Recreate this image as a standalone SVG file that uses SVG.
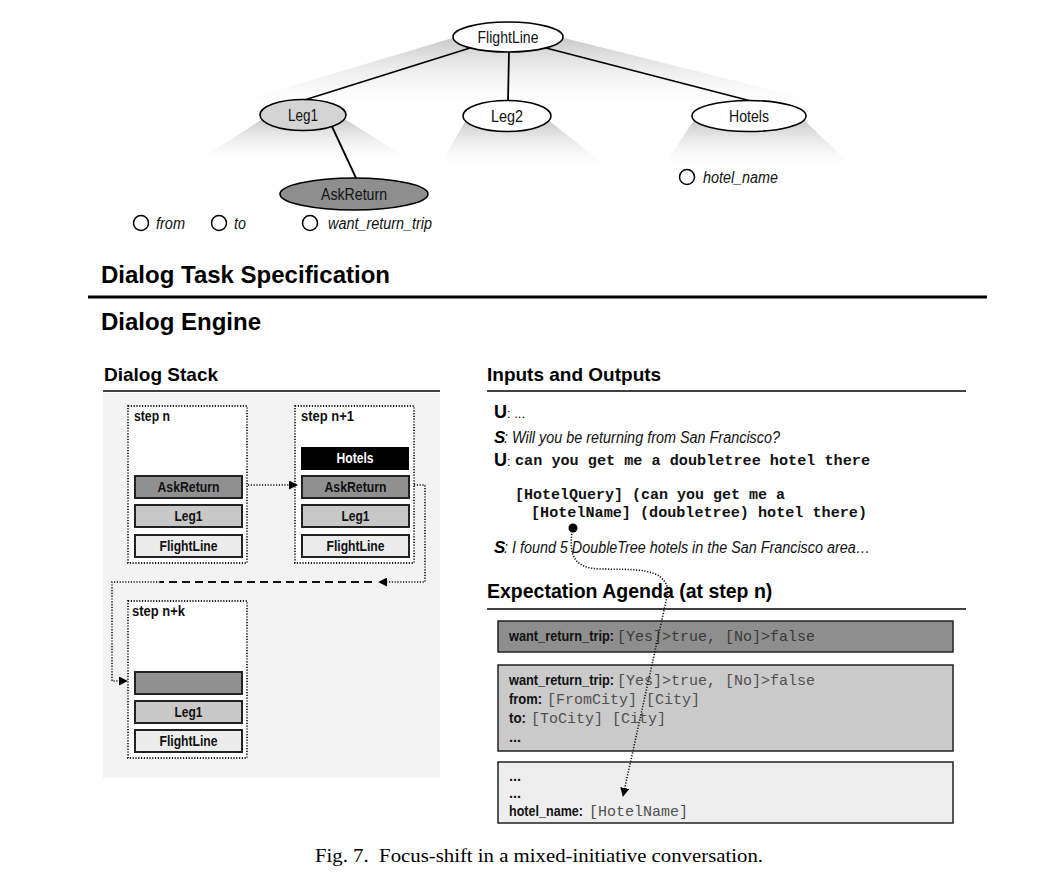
<svg xmlns="http://www.w3.org/2000/svg" width="1056" height="879" viewBox="0 0 1056 879">
<style>
.sans{font-family:"Liberation Sans",Arial,sans-serif;}
.hd{font-family:"Liberation Sans",Arial,sans-serif;font-weight:bold;fill:#000;}
.lbl{font-family:"Liberation Sans",Arial,sans-serif;font-size:16px;fill:#111;}
.it{font-family:"Liberation Sans",Arial,sans-serif;font-style:italic;font-size:16px;fill:#111;}
.sb{font-family:"Liberation Sans",Arial,sans-serif;font-weight:bold;font-size:14px;fill:#111;}
.ab{font-family:"Liberation Sans",Arial,sans-serif;font-weight:bold;font-size:14.5px;fill:#111;}
.mono{font-family:"Liberation Mono","Courier New",monospace;font-size:15px;fill:#505050;}
.monob{font-family:"Liberation Mono","Courier New",monospace;font-size:15px;font-weight:bold;fill:#111;}
.ell{stroke:#000;stroke-width:1.6;}
.edge{stroke:#000;stroke-width:1.8;fill:none;}
.slot{fill:#fff;stroke:#000;stroke-width:1.5;}
.frame{fill:#fff;stroke:#222;stroke-width:1.8;stroke-dasharray:1.2 1.6;}
.item{stroke:#222;stroke-width:2;}
.dot{stroke:#111;stroke-width:1.6;stroke-dasharray:1.2 1.6;fill:none;}
.agenda{stroke:#222;stroke-width:1.5;}
</style>
<defs>
<linearGradient id="fan" x1="0" y1="0" x2="0" y2="1">
<stop offset="0" stop-color="#c8c8c8"/>
<stop offset="1" stop-color="#ffffff" stop-opacity="0"/>
</linearGradient>
<marker id="arr" viewBox="0 0 10 10" refX="9" refY="5" markerWidth="9" markerHeight="9" markerUnits="userSpaceOnUse" orient="auto">
<path d="M0,0 L10,5 L0,10 Z" fill="#000"/>
</marker>
</defs>
<rect width="1056" height="879" fill="#fff"/>

<!-- shading fans -->
<g id="fans">
<path d="M456,37 L198,114 L868,114 L560,37 Z" fill="url(#fan)"/>
<path d="M264,118 L190,166 L420,166 L343,118 Z" fill="url(#fan)"/>
<path d="M466,120 L436,172 L614,172 L548,120 Z" fill="url(#fan)"/>
<path d="M694,120 L660,172 L858,172 L804,120 Z" fill="url(#fan)"/>
</g>

<g id="node-flightline">
<ellipse class="ell" cx="508" cy="37" rx="55" ry="15" fill="#fff"/>
<text class="lbl" x="508" y="43" text-anchor="middle" textLength="61" lengthAdjust="spacingAndGlyphs">FlightLine</text>
</g>
<g id="node-leg1">
<ellipse class="ell" cx="303" cy="115" rx="43" ry="15.5" fill="#d4d4d4"/>
<text class="lbl" x="303" y="121" text-anchor="middle" textLength="30" lengthAdjust="spacingAndGlyphs">Leg1</text>
</g>
<g id="node-leg2">
<ellipse class="ell" cx="507" cy="116" rx="44" ry="15.5" fill="#fff"/>
<text class="lbl" x="507" y="122" text-anchor="middle" textLength="32" lengthAdjust="spacingAndGlyphs">Leg2</text>
</g>
<g id="node-hotels">
<ellipse class="ell" cx="749" cy="116" rx="57" ry="15.5" fill="#fff"/>
<text class="lbl" x="749" y="122" text-anchor="middle" textLength="40" lengthAdjust="spacingAndGlyphs">Hotels</text>
</g>
<g id="node-askreturn">
<ellipse class="ell" cx="354" cy="194" rx="74" ry="16" fill="#8e8e8e"/>
<text class="lbl" x="354" y="200" text-anchor="middle" textLength="66" lengthAdjust="spacingAndGlyphs">AskReturn</text>
</g>
<g id="slots">
<circle class="slot" cx="141" cy="223" r="7.5"/>
<text class="it" x="156" y="229" textLength="29" lengthAdjust="spacingAndGlyphs">from</text>
<circle class="slot" cx="219" cy="223" r="7.5"/>
<text class="it" x="234" y="229" textLength="12" lengthAdjust="spacingAndGlyphs">to</text>
<circle class="slot" cx="310" cy="223" r="7.5"/>
<text class="it" x="328" y="229" textLength="104" lengthAdjust="spacingAndGlyphs">want_return_trip</text>
<circle class="slot" cx="687" cy="177" r="7.5"/>
<text class="it" x="703" y="183" textLength="75" lengthAdjust="spacingAndGlyphs">hotel_name</text>
</g>

<g id="headings">
<text class="hd" x="101" y="283" font-size="24">Dialog Task Specification</text>
<line x1="88" y1="297" x2="987" y2="297" stroke="#000" stroke-width="3"/>
<text class="hd" x="101" y="330" font-size="24">Dialog Engine</text>
</g>

<g id="dialog-stack">
<text class="hd" x="104" y="381" font-size="19">Dialog Stack</text>
<line x1="103" y1="391" x2="440" y2="391" stroke="#000" stroke-width="1.5"/>
<rect x="103" y="393" width="337" height="385" fill="#f3f3f3"/>
</g>

<g id="step-n">
<rect class="frame" x="128" y="406" width="119" height="157"/>
<text class="sb" x="134" y="421" textLength="36" lengthAdjust="spacingAndGlyphs">step n</text>
<rect class="item" x="135" y="476" width="107" height="22" fill="#909090"/>
<text class="sb" x="188.5" y="492" text-anchor="middle" textLength="62" lengthAdjust="spacingAndGlyphs">AskReturn</text>
<rect class="item" x="135" y="505" width="107" height="22" fill="#c8c8c8"/>
<text class="sb" x="188.5" y="521" text-anchor="middle" textLength="28" lengthAdjust="spacingAndGlyphs">Leg1</text>
<rect class="item" x="135" y="535" width="107" height="22" fill="#ececec"/>
<text class="sb" x="188.5" y="551" text-anchor="middle" textLength="58" lengthAdjust="spacingAndGlyphs">FlightLine</text>
</g>

<g id="step-n1">
<rect class="frame" x="295" y="406" width="119" height="157"/>
<text class="sb" x="301" y="421" textLength="53" lengthAdjust="spacingAndGlyphs">step n+1</text>
<rect x="301" y="447" width="108" height="23" fill="#000"/>
<text class="sb" x="355" y="463" text-anchor="middle" textLength="37" lengthAdjust="spacingAndGlyphs" style="fill:#fff">Hotels</text>
<rect class="item" x="302" y="476" width="107" height="22" fill="#909090"/>
<text class="sb" x="355.5" y="492" text-anchor="middle" textLength="62" lengthAdjust="spacingAndGlyphs">AskReturn</text>
<rect class="item" x="302" y="505" width="107" height="22" fill="#c8c8c8"/>
<text class="sb" x="355.5" y="521" text-anchor="middle" textLength="28" lengthAdjust="spacingAndGlyphs">Leg1</text>
<rect class="item" x="302" y="535" width="107" height="22" fill="#ececec"/>
<text class="sb" x="355.5" y="551" text-anchor="middle" textLength="58" lengthAdjust="spacingAndGlyphs">FlightLine</text>
</g>

<g id="step-nk">
<rect class="frame" x="128" y="601" width="119" height="157"/>
<text class="sb" x="132" y="616" textLength="53" lengthAdjust="spacingAndGlyphs">step n+k</text>
<rect class="item" x="135" y="672" width="107" height="22" fill="#909090"/>
<rect class="item" x="135" y="701" width="107" height="22" fill="#c8c8c8"/>
<text class="sb" x="188.5" y="717" text-anchor="middle" textLength="28" lengthAdjust="spacingAndGlyphs">Leg1</text>
<rect class="item" x="135" y="730" width="107" height="22" fill="#ececec"/>
<text class="sb" x="188.5" y="746" text-anchor="middle" textLength="58" lengthAdjust="spacingAndGlyphs">FlightLine</text>
</g>

<g id="inputs-outputs">
<text class="hd" x="487" y="381" font-size="19">Inputs and Outputs</text>
<line x1="487" y1="391" x2="966" y2="391" stroke="#000" stroke-width="1.5"/>
<text class="sans" x="494" y="418" font-size="18" font-weight="bold">U<tspan font-weight="normal" font-size="13">: ...</tspan></text>
<text class="sans" x="494" y="443" font-size="17" font-weight="bold" font-style="italic">S</text>
<text class="it" x="504" y="443" textLength="276" lengthAdjust="spacingAndGlyphs">: Will you be returning from San Francisco?</text>
<text class="sans" x="494" y="466" font-size="18" font-weight="bold">U<tspan font-weight="normal" font-size="13">:</tspan></text>
<text class="monob" x="515" y="465" textLength="355" lengthAdjust="spacingAndGlyphs">can you get me a doubletree hotel there</text>
<text class="monob" x="515" y="499" textLength="270" lengthAdjust="spacingAndGlyphs">[HotelQuery] (can you get me a</text>
<text class="monob" x="531" y="517" textLength="336" lengthAdjust="spacingAndGlyphs">[HotelName] (doubletree) hotel there)</text>
<text class="sans" x="494" y="553" font-size="17" font-weight="bold" font-style="italic">S</text>
<text class="it" x="504" y="553" textLength="366" lengthAdjust="spacingAndGlyphs">: I found 5 DoubleTree hotels in the San Francisco area…</text>
</g>

<g id="expectation-agenda">
<text class="hd" x="487" y="598" font-size="19.5">Expectation Agenda (at step n)</text>
<line x1="487" y1="609" x2="966" y2="609" stroke="#000" stroke-width="1.5"/>
</g>
<g id="agenda-1">
<rect class="agenda" x="498" y="621" width="455" height="31" fill="#8e8e8e"/>
<text class="ab" x="509" y="641" textLength="105" lengthAdjust="spacingAndGlyphs">want_return_trip:</text>
<text class="mono" x="617" y="641" style="fill:#3a3a3a">[Yes]&gt;true, [No]&gt;false</text>
</g>
<g id="agenda-2">
<rect class="agenda" x="498" y="665" width="455" height="86" fill="#cacaca"/>
<text class="ab" x="509" y="685" textLength="105" lengthAdjust="spacingAndGlyphs">want_return_trip:</text>
<text class="mono" x="617" y="685">[Yes]&gt;true, [No]&gt;false</text>
<text class="ab" x="509" y="704" textLength="33" lengthAdjust="spacingAndGlyphs">from:</text>
<text class="mono" x="547" y="704">[FromCity] [City]</text>
<text class="ab" x="509" y="723" textLength="17" lengthAdjust="spacingAndGlyphs">to:</text>
<text class="mono" x="531" y="723">[ToCity] [City]</text>
<text class="ab" x="509" y="742">...</text>
</g>
<g id="agenda-3">
<rect class="agenda" x="498" y="762" width="455" height="61" fill="#eeeeee"/>
<text class="ab" x="509" y="781">...</text>
<text class="ab" x="509" y="798">...</text>
<text class="ab" x="509" y="816" textLength="74" lengthAdjust="spacingAndGlyphs">hotel_name:</text>
<text class="mono" x="589" y="816">[HotelName]</text>
</g>

<g id="connectors">
<line class="edge" x1="470" y1="48" x2="306" y2="99.5"/>
<line class="edge" x1="509" y1="52" x2="508" y2="100.5"/>
<line class="edge" x1="546" y1="48" x2="749" y2="100.5"/>
<line class="edge" x1="332" y1="126.5" x2="356" y2="178"/>
<line class="dot" x1="248" y1="485" x2="297" y2="485" marker-end="url(#arr)"/>
<polyline class="dot" points="414,485 425,485 425,582 379,582" marker-end="url(#arr)"/>
<line x1="372" y1="582" x2="160" y2="582" stroke="#111" stroke-width="2" stroke-dasharray="8 5"/>
<polyline class="dot" points="160,582 112,582 112,681 127,681" marker-end="url(#arr)"/>
<circle cx="573" cy="528" r="4.5" fill="#000"/>
<path class="dot" d="M572,531 C569,556 574,568 600,569 C632,570 666,566 668,592 L623,796" marker-end="url(#arr)"/>
</g>

<text id="caption" x="315" y="862" font-family="'Liberation Serif','Times New Roman',serif" font-size="18" fill="#000" textLength="448" lengthAdjust="spacingAndGlyphs">Fig. 7.&#160; Focus-shift in a mixed-initiative conversation.</text>
</svg>
